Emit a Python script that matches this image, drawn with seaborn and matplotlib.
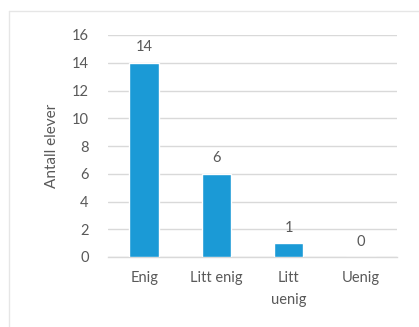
import matplotlib
matplotlib.use("Agg")
import matplotlib.pyplot as plt
from matplotlib.lines import Line2D
import seaborn as sns
import pandas as pd

categories = ["Enig", "Litt enig", "Litt\nuenig", "Uenig"]
values = [14, 6, 1, 0]
y_ticks = [0, 2, 4, 6, 8, 10, 12, 14, 16]
y_label = "Antall elever"

bar_color = "#1b9ad6"
text_color = "#595959"
grid_color = "#d9d9d9"

sns.set_theme(style="white")
plt.rcParams["font.family"] = ["Lato", "DejaVu Sans"]

df = pd.DataFrame({"kategori": categories, "antall": values})

fig = plt.figure(figsize=(4.19, 3.27), dpi=100)
fig.patch.set_facecolor("white")
ax = fig.add_axes([108 / 419, 1 - 257 / 327, 289 / 419, 222 / 327])

sns.barplot(data=df, x="kategori", y="antall", color=bar_color,
            width=0.41, saturation=1, ax=ax, zorder=3)

ax.set_ylim(0, 16)
ax.set_yticks(y_ticks)
ax.set_yticklabels([str(t) for t in y_ticks])
ax.yaxis.grid(True, color=grid_color, linewidth=1, zorder=0)
ax.set_axisbelow(True)
for s in ["left", "right", "top"]:
    ax.spines[s].set_visible(False)
ax.spines["bottom"].set_color(grid_color)
ax.spines["bottom"].set_linewidth(1)
ax.tick_params(axis="both", length=0, colors=text_color, labelsize=10.5)
ax.tick_params(axis="y", pad=14)
ax.tick_params(axis="x", pad=10)
for lbl in ax.get_xticklabels():
    lbl.set_linespacing(1.7)
ax.set_xlabel("")
ax.set_ylabel(y_label, color=text_color, fontsize=11, labelpad=9)

for container in ax.containers:
    ax.bar_label(container, labels=[str(v) for v in values],
                 padding=6, color=text_color, fontsize=10.5)

# faint frame edges around the chart area
frame = dict(transform=fig.transFigure, color="#e6e6e6", linewidth=1)
fig.lines.append(Line2D([9 / 419, 9 / 419], [0, 1 - 11 / 327], **frame))
fig.lines.append(Line2D([9 / 419, 1], [1 - 11 / 327, 1 - 11 / 327], **frame))

fig.savefig("out.png", dpi=100)
